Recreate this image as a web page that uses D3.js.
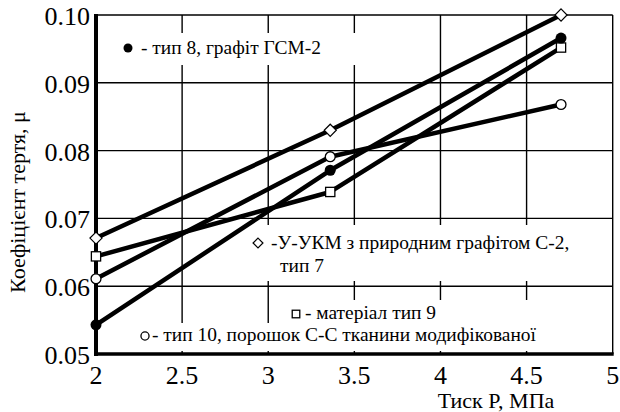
<!DOCTYPE html>
<html>
<head>
<meta charset="utf-8">
<script src="https://cdn.jsdelivr.net/npm/d3@7"></script>
</head>
<body style="margin:0">
<script>
// data
const pressure = [2, 3.36, 4.7];
const type8 = [0.0543, 0.0771, 0.0966];
const type7 = [0.0671, 0.0830, 0.1000];
const type9 = [0.0644, 0.0739, 0.0952];
const type10 = [0.0611, 0.0791, 0.0868];
const xTicks = [2, 2.5, 3, 3.5, 4, 4.5, 5];
const yTicks = [0.05, 0.06, 0.07, 0.08, 0.09, 0.10];

const FONT = "'Liberation Serif'";

let width = 620;
let height = 412;

let x = d3.scaleLinear().domain([2, 5]).range([96, 612.7]);
let y = d3.scaleLinear().domain([0.05, 0.10]).range([354, 15]);

let svg = d3
  .select("body")
  .append("svg")
  .attr("width", width)
  .attr("height", height);

// grid
svg.append("g")
  .selectAll("line")
  .data(xTicks.slice(1))
  .enter()
  .append("line")
  .attr("x1", (d) => x(d))
  .attr("x2", (d) => x(d))
  .attr("y1", y(0.05))
  .attr("y2", y(0.10))
  .attr("stroke", "#000")
  .attr("stroke-width", 1.4);

svg.append("g")
  .selectAll("line")
  .data(yTicks.slice(1))
  .enter()
  .append("line")
  .attr("x1", x(2))
  .attr("x2", x(5))
  .attr("y1", (d) => y(d))
  .attr("y2", (d) => y(d))
  .attr("stroke", "#000")
  .attr("stroke-width", 1.4);

// white boxes behind the legend texts
let boxes = [
  [110, 33, 250, 32],
  [250, 225, 360, 56],
  [285, 300, 275, 23],
  [130, 323, 430, 28]
];
svg.append("g")
  .selectAll("rect")
  .data(boxes)
  .enter()
  .append("rect")
  .attr("x", (d) => d[0])
  .attr("y", (d) => d[1])
  .attr("width", (d) => d[2])
  .attr("height", (d) => d[3])
  .attr("fill", "#fff");

// thick axes
svg.append("line")
  .attr("x1", x(2)).attr("x2", x(2))
  .attr("y1", y(0.10) - 1).attr("y2", y(0.05) + 2)
  .attr("stroke", "#000").attr("stroke-width", 4);
svg.append("line")
  .attr("x1", x(2) - 2).attr("x2", x(5) + 1)
  .attr("y1", y(0.05)).attr("y2", y(0.05))
  .attr("stroke", "#000").attr("stroke-width", 3.5);

// tick labels
svg.append("g")
  .selectAll("text")
  .data(yTicks)
  .enter()
  .append("text")
  .attr("x", 90)
  .attr("y", (d) => y(d) + 10)
  .attr("text-anchor", "end")
  .attr("font-size", 26)
  .style("font-family", FONT)
  .text((d) => d.toFixed(2));

svg.append("g")
  .selectAll("text")
  .data(xTicks)
  .enter()
  .append("text")
  .attr("x", (d) => x(d))
  .attr("y", 384)
  .attr("text-anchor", "middle")
  .attr("font-size", 26)
  .style("font-family", FONT)
  .text((d) => d);

// axis titles
svg.append("text")
  .attr("x", 496)
  .attr("y", 408)
  .attr("text-anchor", "middle")
  .attr("font-size", 22)
  .style("font-family", FONT)
  .text("Тиск P, МПа");

svg.append("text")
  .attr("transform", "translate(25,202) rotate(-90)")
  .attr("text-anchor", "middle")
  .attr("font-size", 22)
  .style("font-family", FONT)
  .text("Коефіцієнт тертя, μ");

// series
let series = [
  { values: type7, marker: "diamond" },
  { values: type10, marker: "circle" },
  { values: type9, marker: "square" },
  { values: type8, marker: "dot" }
];

let line = d3.line()
  .x((d) => x(d[0]))
  .y((d) => y(d[1]));

series.forEach(function (s) {
  let pts = pressure.map((p, i) => [p, s.values[i]]);
  svg.append("path")
    .attr("d", line(pts))
    .attr("fill", "none")
    .attr("stroke", "#000")
    .attr("stroke-width", 4.5)
    .attr("stroke-linejoin", "round");
});

function marker(g, type, cx, cy, size) {
  if (type == "dot") {
    g.append("circle").attr("cx", cx).attr("cy", cy).attr("r", size * 0.5)
      .attr("fill", "#000");
  } else if (type == "circle") {
    g.append("circle").attr("cx", cx).attr("cy", cy).attr("r", size * 0.45)
      .attr("fill", "#fff").attr("stroke", "#000").attr("stroke-width", 1.3);
  } else if (type == "square") {
    let h = size * 0.42;
    g.append("rect").attr("x", cx - h).attr("y", cy - h)
      .attr("width", 2 * h).attr("height", 2 * h)
      .attr("fill", "#fff").attr("stroke", "#000").attr("stroke-width", 1.3);
  } else {
    let h = size * 0.55;
    g.append("path")
      .attr("d", "M" + cx + "," + (cy - h) + "L" + (cx + h) + "," + cy +
        "L" + cx + "," + (cy + h) + "L" + (cx - h) + "," + cy + "Z")
      .attr("fill", "#fff").attr("stroke", "#000").attr("stroke-width", 1.2);
  }
}

let markers = svg.append("g");
series.forEach(function (s) {
  pressure.forEach(function (p, i) {
    marker(markers, s.marker, x(p), y(s.values[i]), 11);
  });
});

// legend (the scan is a little wider than Times, so stretch the text)
let legend = svg.append("g");

function label(tx, ty, str) {
  legend.append("text")
    .attr("transform", "translate(" + tx + "," + ty + ") scale(1.08,1)")
    .attr("font-size", 18)
    .style("font-family", FONT)
    .text(str);
}

marker(legend, "dot", 128, 48, 9);
label(141, 54, "- тип 8, графіт ГСМ-2");

marker(legend, "diamond", 258, 243, 9);
label(271, 249, "-У-УКМ з природним графітом С-2,");
label(280, 272, "тип 7");

marker(legend, "square", 296, 314, 9);
label(305, 319, "- матеріал тип 9");

marker(legend, "circle", 145, 336, 9);
label(152, 341, "- тип 10, порошок С-С тканини модифікованої");
</script>
</body>
</html>
